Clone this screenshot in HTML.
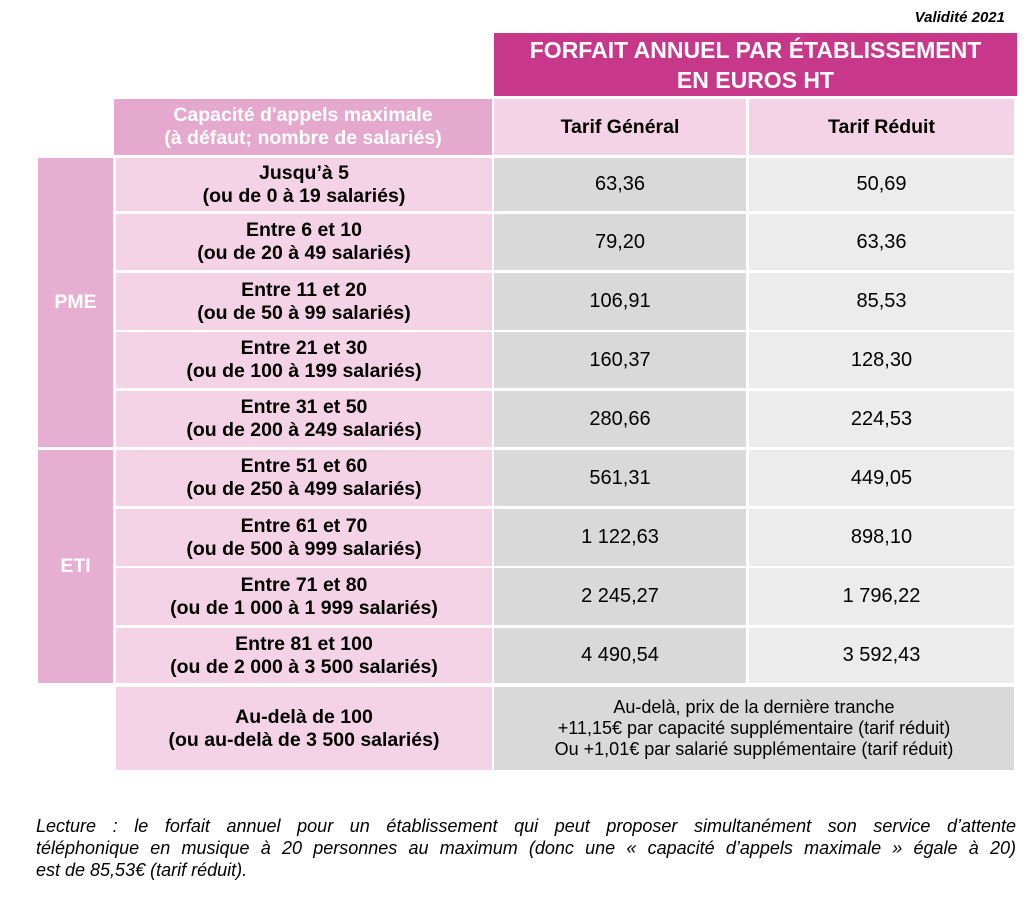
<!DOCTYPE html>
<html><head><meta charset="utf-8"><style>
body{margin:0;width:1035px;height:897px;background:#fff;font-family:"Liberation Sans",Arial,sans-serif;position:relative;overflow:hidden;color:#000}
.c{position:absolute;display:flex;align-items:center;justify-content:center;text-align:center;box-sizing:border-box}
.b{font-weight:bold;font-size:19.5px;line-height:23px}
.n{font-size:20px}
.lp{background:#f3d3e5}
.g{background:#d9d9d9}
.r{background:#ececec}
.f{position:absolute;left:36px;width:980px;font-style:italic;font-size:18px;line-height:22px;white-space:nowrap}
.j{text-align:justify;text-align-last:justify;white-space:normal;height:22px;overflow:hidden}
</style></head><body>
<div style="position:absolute;right:30px;top:9px;font-size:15px;font-weight:bold;font-style:italic">Validité 2021</div>
<div class="c" style="left:494px;top:33px;width:523px;height:63px;background:#c8388a;color:#fff;font-weight:bold;font-size:23px;line-height:30px">FORFAIT ANNUEL PAR ÉTABLISSEMENT<br>EN EUROS HT</div>
<div class="c b" style="left:114px;top:99px;width:378px;height:56px;background:#e4a9cc;color:#fff;font-size:19.5px">Capacité d'appels maximale<br>(à défaut; nombre de salariés)</div>
<div class="c b lp" style="left:494px;top:99px;width:252px;height:56px">Tarif Général</div>
<div class="c b lp" style="left:749px;top:99px;width:265px;height:56px">Tarif Réduit</div>
<div class="c b" style="left:38px;top:158px;width:75px;height:289px;background:#e6aed0;color:#fff">PME</div>
<div class="c b" style="left:38px;top:450px;width:75px;height:233px;background:#e6aed0;color:#fff">ETI</div>
<div id="rows"></div>
<script>
var d=[["Jusqu’à 5","(ou de 0 à 19 salariés)","63,36","50,69",158,53],
["Entre 6 et 10","(ou de 20 à 49 salariés)","79,20","63,36",214,56],
["Entre 11 et 20","(ou de 50 à 99 salariés)","106,91","85,53",273,57],
["Entre 21 et 30","(ou de 100 à 199 salariés)","160,37","128,30",332,56],
["Entre 31 et 50","(ou de 200 à 249 salariés)","280,66","224,53",391,56],
["Entre 51 et 60","(ou de 250 à 499 salariés)","561,31","449,05",450,56],
["Entre 61 et 70","(ou de 500 à 999 salariés)","1 122,63","898,10",509,57],
["Entre 71 et 80","(ou de 1 000 à 1 999 salariés)","2 245,27","1 796,22",568,57],
["Entre 81 et 100","(ou de 2 000 à 3 500 salariés)","4 490,54","3 592,43",628,55]];
var h="";d.forEach(function(x){var s="top:"+x[4]+"px;height:"+x[5]+"px;";
h+='<div class="c b lp" style="left:116px;width:376px;'+s+'">'+x[0]+'<br>'+x[1]+'</div>';
h+='<div class="c n g" style="left:494px;width:252px;'+s+'">'+x[2]+'</div>';
h+='<div class="c n r" style="left:749px;width:265px;'+s+'">'+x[3]+'</div>';});
document.getElementById("rows").outerHTML=h;
</script>
<div class="c b lp" style="left:116px;top:687px;width:376px;height:83px">Au-delà de 100<br>(ou au-delà de 3 500 salariés)</div>
<div class="c g" style="left:494px;top:687px;width:520px;height:83px;font-size:18px;line-height:21px">Au-delà, prix de la dernière tranche<br>+11,15€ par capacité supplémentaire (tarif réduit)<br>Ou +1,01€ par salarié supplémentaire (tarif réduit)</div>
<div class="f j" style="top:815px">Lecture : le forfait annuel pour un établissement qui peut proposer simultanément son service d’attente</div>
<div class="f j" style="top:837px">téléphonique en musique à 20 personnes au maximum (donc une « capacité d’appels maximale » égale à 20)</div>
<div class="f" style="top:859px">est de 85,53€ (tarif réduit).</div>
</body></html>
